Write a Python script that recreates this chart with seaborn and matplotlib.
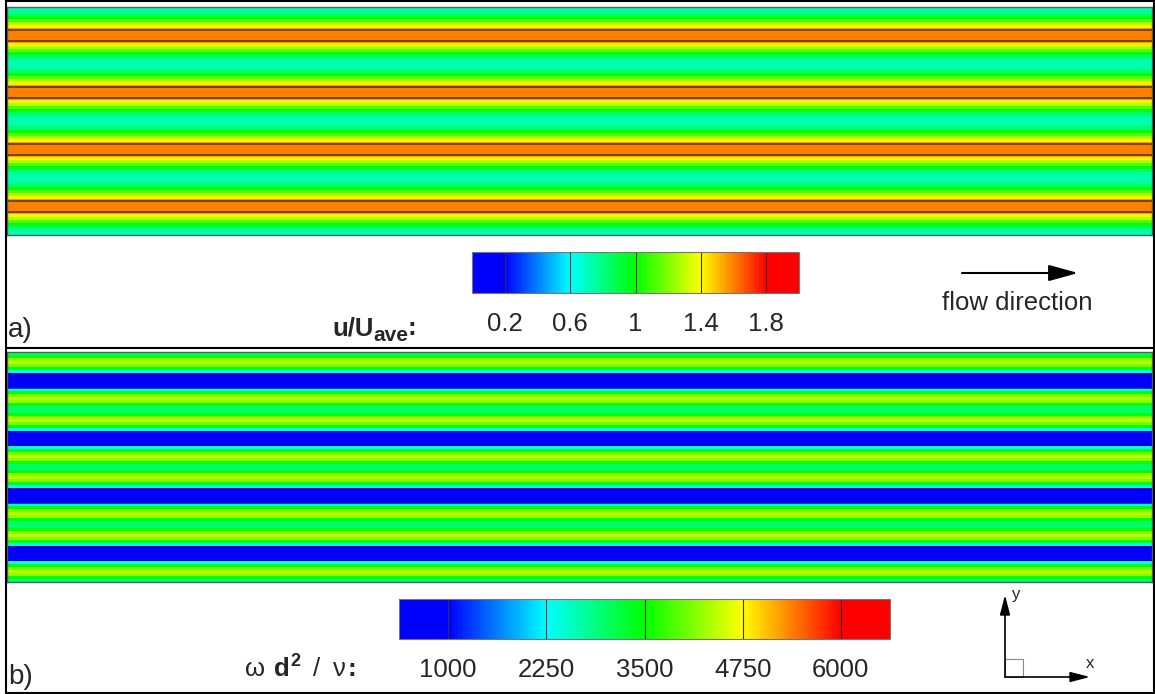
import numpy as np
import pandas as pd
import matplotlib
matplotlib.use("Agg")
import matplotlib.pyplot as plt
import seaborn as sns
from matplotlib.colors import LinearSegmentedColormap, Normalize
from matplotlib.cm import ScalarMappable
from matplotlib.patches import Rectangle

# ---------------- data ----------------
n_cells = 4                      # number of repeating channels across y
# u/U_ave across one channel (min -> max -> min), 19 samples
u_cell = [0.72, 0.76, 0.85, 0.98, 1.12, 1.28, 1.42, 1.55, 1.60, 1.60,
          1.60, 1.55, 1.42, 1.28, 1.12, 0.98, 0.85, 0.76, 0.72]
# vorticity w d^2/nu across one channel (between low bands -> low band -> ...)
w_cell = [3000, 3500, 4200, 4400, 4100, 3500, 2300, 800, 500, 500,
          500, 800, 2300, 3500, 4100, 4400, 4200, 3500, 3000]
x_stations = list(range(12))     # streamwise stations (field uniform along x)

u_ticks = [0.2, 0.6, 1.0, 1.4, 1.8]
u_tick_labels = ["0.2", "0.6", "1", "1.4", "1.8"]
u_range = (0.0, 2.0)
w_ticks = [1000, 2250, 3500, 4750, 6000]
w_tick_labels = ["1000", "2250", "3500", "4750", "6000"]
w_range = (375, 6625)

# ---------------- style ----------------
sns.set_style("white")
plt.rcParams["font.family"] = ["Liberation Sans", "DejaVu Sans"]

W, H = 1155, 694
fig = plt.figure(figsize=(W / 100, H / 100), dpi=100)


def px_axes(x0, y0, x1, y1):
    return fig.add_axes([x0 / W, 1 - y1 / H, (x1 - x0) / W, (y1 - y0) / H])


cmap = LinearSegmentedColormap.from_list(
    "rainbow_bands",
    [(0.0, "#0000ff"), (0.1, "#0000ff"), (0.3, "#00ffff"), (0.5, "#00ff00"),
     (0.7, "#ffff00"), (0.9, "#ff0000"), (1.0, "#ff0000")])

u_df = pd.DataFrame(np.tile(np.array(u_cell)[:, None], (n_cells, len(x_stations))),
                    columns=x_stations)
w_df = pd.DataFrame(np.tile(np.array(w_cell)[:, None], (n_cells, len(x_stations))),
                    columns=x_stations)
n_row = len(u_cell)

# ---------------- panel a: velocity ----------------
ax_a = px_axes(7, 7, 1152, 235)
sns.heatmap(u_df, ax=ax_a, cmap=cmap, vmin=u_range[0], vmax=u_range[1],
            cbar=False, xticklabels=False, yticklabels=False, linewidths=0)
wall_half = 5.5 / 3.0
for k in range(n_cells):
    c = k * n_row + n_row / 2
    for s in (-1, 1):
        ax_a.axhline(c + s * wall_half, color="#4a2a10", lw=1.1)
for sp in ax_a.spines.values():
    sp.set_visible(True)
    sp.set_color("#4f6060")
    sp.set_linewidth(1.0)

# ---------------- panel b: vorticity ----------------
ax_b = px_axes(7, 352, 1152, 582)
sns.heatmap(w_df, ax=ax_b, cmap=cmap, vmin=w_range[0], vmax=w_range[1],
            cbar=False, xticklabels=False, yticklabels=False, linewidths=0)
edge_half = 7.0 / 3.03
for k in range(n_cells):
    c = k * n_row + n_row / 2
    for s in (-1, 1):
        ax_b.axhline(c + s * edge_half, color="#000050", lw=0.8, alpha=0.7)
for sp in ax_b.spines.values():
    sp.set_visible(True)
    sp.set_color("#4f6060")
    sp.set_linewidth(1.0)


# ---------------- colour bars ----------------
def banded_colorbar(box, rng, ticks, labels, pad):
    cax = px_axes(*box)
    cb = fig.colorbar(ScalarMappable(norm=Normalize(*rng), cmap=cmap),
                      cax=cax, orientation="horizontal")
    cb.set_ticks(ticks, labels=labels)
    cax.tick_params(length=0, pad=pad, labelsize=18.5)
    cb.outline.set_edgecolor("#777777")
    cb.outline.set_linewidth(0.8)
    for t in ticks:
        cax.axvline(t, color="#333333", lw=0.8)
    return cax


banded_colorbar((472, 252, 799, 293), u_range, u_ticks, u_tick_labels, 14)
banded_colorbar((399, 599, 890, 639), w_range, w_ticks, w_tick_labels, 13.5)

# ---------------- overlay: frame, labels, arrows ----------------
ov = fig.add_axes([0, 0, 1, 1])
ov.set_xlim(0, W)
ov.set_ylim(H, 0)
ov.axis("off")
ov.patch.set_alpha(0)

ov.add_patch(Rectangle((6, 1), 1147.5, 692, fill=False, lw=1.5, ec="black"))
ov.plot([6, 1153.5], [347.5, 347.5], color="black", lw=1.5)

ov.text(8, 337, "a)", fontsize=20, va="baseline")
ov.text(8, 684, "b)", fontsize=20, va="baseline")

# u/U_ave:
ov.text(332, 335, "u/U", fontsize=18.5, weight="bold", va="baseline")
ov.text(373, 341, "ave", fontsize=15, weight="bold", va="baseline")
ov.text(407, 335, ":", fontsize=18.5, weight="bold", va="baseline")

# omega d^2 / nu:
ov.text(245, 676, "ω", fontsize=18.5, va="baseline")
ov.text(274, 676, "d", fontsize=18.5, weight="bold", va="baseline")
ov.text(290, 666, "2", fontsize=13, weight="bold", va="baseline")
ov.text(313, 676, "/", fontsize=18.5, va="baseline")
ov.text(333, 676, "ν", fontsize=18.5, va="baseline")
ov.text(347, 676, ":", fontsize=18.5, weight="bold", va="baseline")

# flow direction arrow
ov.annotate("", xy=(1078, 273), xytext=(962, 273),
            arrowprops=dict(arrowstyle="-|>,head_length=0.9,head_width=0.25",
                            mutation_scale=20, lw=1.5, color="black",
                            shrinkA=0, shrinkB=0))
ov.text(1017, 310, "flow direction", fontsize=18.5, ha="center", va="baseline")

# coordinate system indicator
ov.annotate("", xy=(1005, 595), xytext=(1005, 677),
            arrowprops=dict(arrowstyle="-|>,head_length=0.85,head_width=0.22",
                            mutation_scale=14, lw=1.2, color="black",
                            shrinkA=0, shrinkB=0))
ov.annotate("", xy=(1090, 677), xytext=(1005, 677),
            arrowprops=dict(arrowstyle="-|>,head_length=0.85,head_width=0.22",
                            mutation_scale=14, lw=1.2, color="black",
                            shrinkA=0, shrinkB=0))
ov.add_patch(Rectangle((1005, 659), 18, 18, fill=False, lw=0.8, ec="#888888"))
ov.text(1016, 594, "y", fontsize=12, ha="center", va="center")
ov.text(1090, 664, "x", fontsize=12, ha="center", va="center")

fig.savefig("out.png", dpi=100)
